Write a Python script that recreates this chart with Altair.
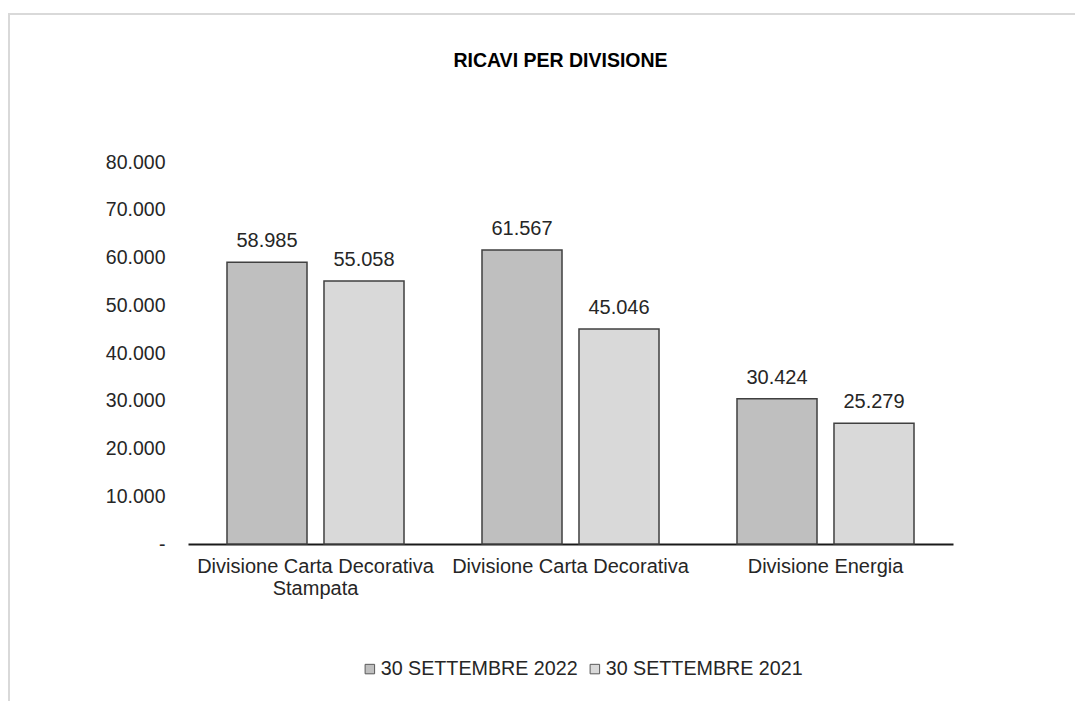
import altair as alt
import pandas as pd

categories = ["Divisione Carta Decorativa Stampata", "Divisione Carta Decorativa", "Divisione Energia"]
series = ["30 SETTEMBRE 2022", "30 SETTEMBRE 2021"]
values_2022 = [58985, 61567, 30424]
values_2021 = [55058, 45046, 25279]
colors = ["#bfbfbf", "#d9d9d9"]
title_text = "RICAVI PER DIVISIONE"

rows = []
for i, c in enumerate(categories):
    rows.append({"cat": c, "serie": series[0], "val": values_2022[i]})
    rows.append({"cat": c, "serie": series[1], "val": values_2021[i]})
df = pd.DataFrame(rows)

FONT = "Liberation Sans"
TXT = "#262626"
W, H = 765, 382
FS = 20

x = alt.X("cat:N", sort=categories, title=None,
          scale=alt.Scale(paddingInner=0, paddingOuter=0),
          axis=alt.Axis(labelAngle=0, ticks=False, domainColor="#1a1a1a", domainWidth=2,
                        labelFont=FONT, labelFontSize=FS, labelColor=TXT, labelPadding=12,
                        labelLineHeight=22, labelBaseline="top", labelLimit=400,
                        labelExpr="datum.label == 'Divisione Carta Decorativa Stampata' ? ['Divisione Carta Decorativa', 'Stampata'] : datum.label"))
xo = alt.XOffset("serie:N", sort=series,
                 scale=alt.Scale(paddingInner=0.175, paddingOuter=0.402))
y = alt.Y("val:Q", title=None,
          scale=alt.Scale(domain=[0, 80000], nice=False),
          axis=alt.Axis(values=[0, 10000, 20000, 30000, 40000, 50000, 60000, 70000, 80000],
                        grid=False, ticks=False, domain=False,
                        labelFont=FONT, labelFontSize=FS - 0.5, labelColor=TXT, labelPadding=23,
                        labelExpr="datum.value == 0 ? '-\u00a0\u00a0\u00a0\u00a0\u00a0' : replace(format(datum.value, ',.0f'), ',', '.')"))

base = alt.Chart(df)

bars = base.mark_bar(stroke="#404040", strokeWidth=1.5).encode(
    x=x, xOffset=xo, y=y,
    color=alt.Color("serie:N", sort=series,
                    scale=alt.Scale(domain=series, range=colors),
                    legend=alt.Legend(title=None, orient="none", legendX=172, legendY=497,
                                      direction="horizontal", symbolType="square",
                                      symbolSize=90, symbolStrokeColor="#595959",
                                      symbolStrokeWidth=1, labelFont=FONT, labelFontSize=FS - 0.3,
                                      labelColor=TXT, columnPadding=7, labelOffset=1,
                                      labelLimit=0)),
)

labels = base.mark_text(font=FONT, fontSize=FS, color=TXT, baseline="middle", dy=-21).encode(
    x=x, xOffset=xo, y=y,
    text=alt.Text("lab:N"),
).transform_calculate(lab="replace(format(datum.val, ',.0f'), ',', '.')")

title = alt.Chart(pd.DataFrame({"t": [title_text]})).mark_text(
    font=FONT, fontSize=19.5, fontWeight="bold", color="#000000", baseline="middle"
).encode(text="t:N", x=alt.value(W / 2 - 10), y=alt.value(-101))

border = alt.Chart(pd.DataFrame({"a": [0]})).mark_rule(color="#d9d9d9", strokeWidth=2).encode(
    x=alt.value(-180), x2=alt.value(887), y=alt.value(-148)
)
border2 = alt.Chart(pd.DataFrame({"a": [0]})).mark_rule(color="#d9d9d9", strokeWidth=2).encode(
    x=alt.value(-179), y=alt.value(-148), y2=alt.value(600)
)

chart = alt.layer(border, border2, bars, labels, title).properties(
    width=W, height=H,
    padding={"left": 180, "top": 154, "right": 122, "bottom": 157},
    autosize=alt.AutoSizeParams(type="none"),
    background="white",
).configure_view(strokeWidth=0, stroke=None)

chart.save("out.html", embed_options={"renderer": "svg", "actions": False})
